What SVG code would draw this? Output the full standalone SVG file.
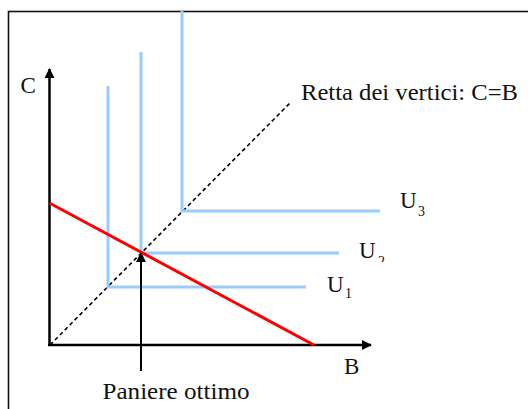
<svg xmlns="http://www.w3.org/2000/svg" width="528" height="409" viewBox="0 0 528 409">
<defs>
<style>
.t{fill:#111;font-size:23px}
.s{fill:#111;font-size:14px}
.ax{stroke:#000;stroke-width:2.5;fill:none}
.u{stroke:#99CCFF;stroke-width:3;fill:none}
</style>
<marker id="ah" viewBox="0 0 10 10" refX="9" refY="5" markerWidth="10" markerHeight="10" markerUnits="userSpaceOnUse" orient="auto">
<path d="M0,0 L10,5 L0,10 z" fill="#000"/>
</marker>
<clipPath id="c2"><rect x="370" y="240" width="30" height="22"/></clipPath>
</defs>
<rect x="0" y="0" width="528" height="409" fill="#fff"/>
<rect x="8.5" y="11.5" width="530" height="410" fill="none" stroke="#111" stroke-width="1.6"/>
<g id="connectors">
<line class="ax" x1="49.5" y1="346" x2="49.5" y2="69" marker-end="url(#ah)"/>
<line class="ax" x1="48" y1="345" x2="371" y2="345" marker-end="url(#ah)"/>
<line x1="50" y1="345" x2="290" y2="103" stroke="#000" stroke-width="1.6" stroke-dasharray="4,3"/>
</g>
<g font-family="'Liberation Serif', 'Times New Roman', serif">
<g id="U1"><polyline class="u" points="108,86 108,287 306,287"/>
<text class="t" x="327" y="292">U</text><text class="s" x="345" y="298">1</text></g>
<g id="U2"><polyline class="u" points="141,52 141,253 339,253"/>
<text class="t" x="359" y="258">U</text><text class="s" x="378" y="266" clip-path="url(#c2)">2</text></g>
<g id="U3"><polyline class="u" points="182,11 182,211 380,211"/>
<text class="t" x="400" y="208">U</text><text class="s" x="418" y="216">3</text></g>
<g id="budget"><line x1="49.5" y1="203" x2="314" y2="345" stroke="#FF0000" stroke-width="3"/></g>
<g id="paniere">
<line x1="141" y1="371" x2="141" y2="253" stroke="#000" stroke-width="2" marker-end="url(#ah)"/>
<text class="t" x="102.5" y="399" textLength="147" lengthAdjust="spacingAndGlyphs">Paniere ottimo</text>
</g>
<g id="labels">
<text class="t" x="20.5" y="93">C</text>
<text class="t" x="344" y="374">B</text>
<text class="t" x="301" y="100" textLength="217" lengthAdjust="spacingAndGlyphs">Retta dei vertici: C=B</text>
</g>
</g>
</svg>
